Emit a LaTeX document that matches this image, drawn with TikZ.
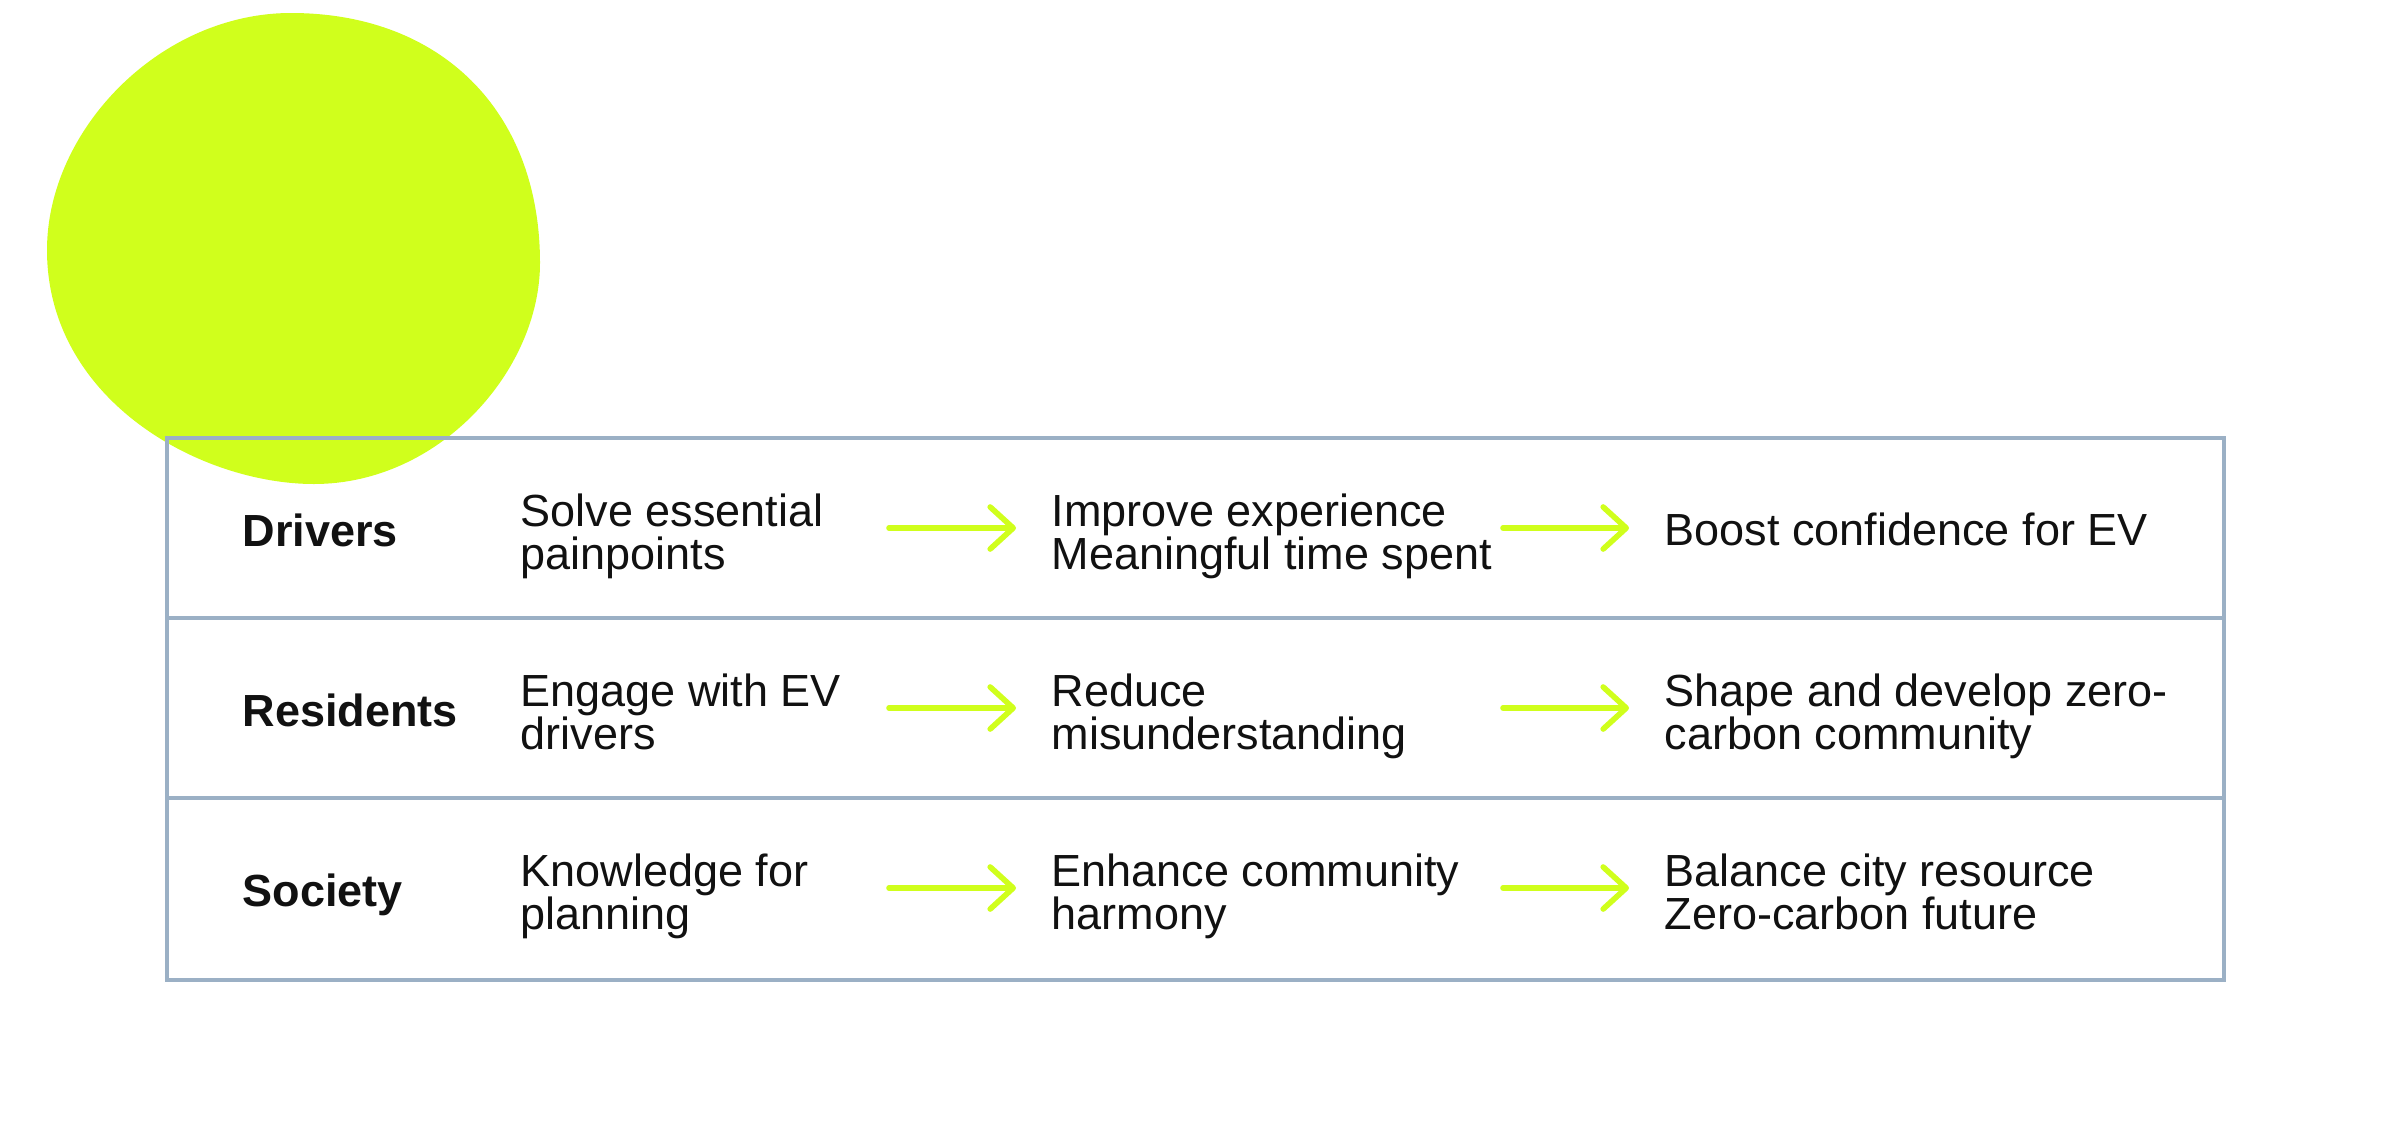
\documentclass[tikz,border=0pt]{standalone}
\usepackage{fontspec}
\setmainfont{Liberation Sans}
\usetikzlibrary{arrows.meta}
\definecolor{lime}{RGB}{208,255,28}
\definecolor{frame}{RGB}{155,176,197}
\definecolor{ink}{RGB}{17,17,17}
\begin{document}
\begin{tikzpicture}[x=0.01cm, y=-0.01cm, line join=round, line cap=round,
    >={Straight Barb[length=2.3mm, width=4.2mm, round]}]
  \tikzset{every node/.style={inner sep=0pt, text=ink, font=\fontsize{12.8}{12.25}\selectfont},
    who/.style={anchor=base west, font=\fontsize{12.8}{12.25}\selectfont\bfseries},
    what/.style={anchor=north west, align=left},
    flow/.style={->, draw=lime, line width=1.6pt}}
  \useasboundingbox (0,0) rectangle (2392,1124);
  % blob behind the table
  \fill[lime] (291,13) .. controls (440,13) and (540,110) .. (540,263)
    .. controls (540,370) and (440,484) .. (314,484)
    .. controls (200,484) and (47,400) .. (47,250)
    .. controls (47,130) and (160,13) .. (291,13) -- cycle;
  % table frame
  \draw[frame, line width=1pt, line join=miter] (167,438) rectangle (2224,980);
  \draw[frame, line width=1pt, line cap=butt] (167,618) -- (2224,618) (167,798) -- (2224,798);
  % rows (\t = top of the last cell's text)
  \foreach \y/\t/\who/\a/\b/\c [count=\i] in {
      528/-16/Drivers/{Solve essential\\painpoints}/{Improve experience\\Meaningful time spent}/{Boost confidence for EV},
      708/-35/Residents/{Engage with EV\\drivers}/{Reduce\\misunderstanding}/{Shape and develop zero-\\carbon community},
      888/-35/Society/{Knowledge for\\planning}/{Enhance community\\harmony}/{Balance city resource\\Zero-carbon future}}{
    \node[who] (who\i) at (242,{\y+18}) {\who};
    \node[what] (a\i) at (520,{\y-35}) {\a};
    \node[what] (b\i) at (1051,{\y-35}) {\b};
    \node[what] (c\i) at (1664,{\y+\t}) {\c};
    \coordinate (p\i) at (889,\y); \coordinate (q\i) at (1016,\y);
    \coordinate (r\i) at (1503,\y); \coordinate (s\i) at (1629,\y);
    \draw[flow] (p\i) -- (q\i);
    \draw[flow] (r\i) -- (s\i);
  }
\end{tikzpicture}
\end{document}
